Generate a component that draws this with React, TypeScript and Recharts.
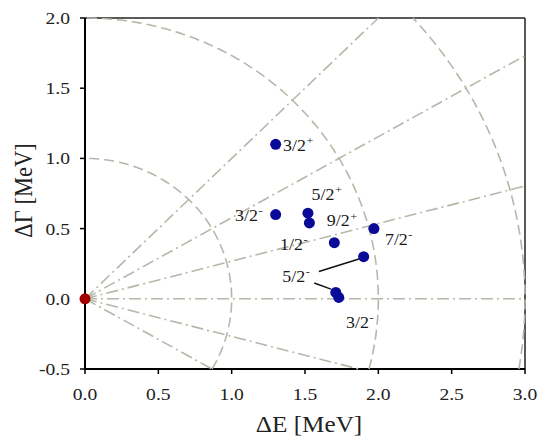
import React from 'react';
import { ScatterChart, Scatter, XAxis, YAxis, ReferenceLine } from 'recharts';

// ---- data ----
const xTicks = [0, 0.5, 1, 1.5, 2, 2.5, 3];
const yTicks = [-0.5, 0, 0.5, 1, 1.5, 2];
const xDomain = [0, 3];
const yDomain = [-0.5, 2];

// resonance states: ΔE and ΔΓ (MeV)
const stateE = [1.30, 1.30, 1.52, 1.53, 1.70, 1.97, 1.90, 1.71, 1.73];
const stateG = [1.10, 0.60, 0.61, 0.54, 0.40, 0.50, 0.30, 0.045, 0.01];

// reference (origin) point
const originE = [0];
const originG = [0];

// state labels (spin, parity) with anchor in data units
const labelSpin = ['3/2', '3/2', '5/2', '9/2', '1/2', '7/2', '5/2', '3/2'];
const labelParity = ['+', '-', '+', '+', '-', '-', '-', '-'];
const labelE = [1.35, 1.023, 1.545, 1.648, 1.33, 2.045, 1.345, 1.78];
const labelG = [1.05, 0.551, 0.705, 0.515, 0.349, 0.385, 0.123, -0.209];

// leader lines from the 5/2- label
const leaderE1 = [1.595, 1.563];
const leaderG1 = [0.194, 0.112];
const leaderE2 = [1.873, 1.677];
const leaderG2 = [0.285, 0.069];

// guide geometry: circles of constant |Δ| and rays of constant phase
const arcRadii = [1, 2, 3];
const rayAngles = [-30, -15, 0, 15, 30, 45];

// ---- helpers ----
const toPoints = (xs: number[], ys: number[]) => xs.map((x, i) => ({ x, y: ys[i] }));

function arcPoints(r: number) {
  const a0 = Math.asin(Math.max(yDomain[0] / r, -1));
  const a1 = Math.asin(Math.min(yDomain[1] / r, 1));
  const n = 90;
  const pts: { x: number; y: number }[] = [];
  for (let i = 0; i <= n; i++) {
    const a = a0 + ((a1 - a0) * i) / n;
    pts.push({ x: r * Math.cos(a), y: r * Math.sin(a) });
  }
  return pts;
}

function rayPoints(deg: number) {
  const a = (deg * Math.PI) / 180;
  const c = Math.cos(a);
  const s = Math.sin(a);
  let t = xDomain[1] / c;
  if (s > 1e-9) t = Math.min(t, yDomain[1] / s);
  if (s < -1e-9) t = Math.min(t, yDomain[0] / s);
  return [
    { x: 0, y: 0 },
    { x: t * c, y: t * s },
  ];
}

const SX = 1.12;
const FONT = '"Liberation Serif", "Times New Roman", serif';
const GUIDE = '#b7b7a9';

const XTick = (props: any) => {
  const { x, y, payload } = props;
  return (
    <text
      transform={`translate(${x},${y + 26}) scale(${SX},1)`}
      textAnchor="middle"
      fontSize={17.5}
      fontFamily={FONT}
      fill="#222"
    >
      {Number(payload.value).toFixed(1)}
    </text>
  );
};

const YTick = (props: any) => {
  const { x, y, payload } = props;
  return (
    <text
      transform={`translate(${x - 10},${y + 6}) scale(${SX},1)`}
      textAnchor="end"
      fontSize={17.5}
      fontFamily={FONT}
      fill="#222"
    >
      {Number(payload.value).toFixed(1)}
    </text>
  );
};

const XTitle = (props: any) => {
  const vb = props.viewBox || { x: 85, y: 369, width: 440, height: 72 };
  const cx = vb.x + vb.width / 2 + 4;
  const by = vb.y + vb.height - 9;
  return (
    <text
      transform={`translate(${cx},${by}) scale(${SX},1)`}
      textAnchor="middle"
      fontSize={22.5}
      fontFamily={FONT}
      fill="#222"
    >
      ΔE [MeV]
    </text>
  );
};

const YTitle = (props: any) => {
  const vb = props.viewBox || { x: 0, y: 18, width: 85, height: 351 };
  const bx = vb.x + 32;
  const cy = vb.y + vb.height / 2 - 3;
  return (
    <text
      transform={`translate(${bx},${cy}) scale(${SX},1) rotate(-90)`}
      textAnchor="middle"
      fontSize={22.5}
      fontFamily={FONT}
      fill="#222"
    >
      ΔΓ [MeV]
    </text>
  );
};

const Dot = (color: string) => (props: any) => {
  const { cx, cy } = props;
  if (cx == null || cy == null) return <g />;
  return <circle cx={cx} cy={cy} r={5.5} fill={color} />;
};

const NoShape = () => <g />;

const StateLabel = (props: any) => {
  const { cx, cy, payload } = props;
  if (cx == null || cy == null) return <g />;
  return (
    <text
      transform={`translate(${cx},${cy}) scale(${SX},1)`}
      fontSize={16}
      fontFamily={FONT}
      fill="#1a1a1a"
    >
      <tspan>{payload.spin}</tspan>
      <tspan dy={-7} dx={0.5} fontSize={11}>
        {payload.parity}
      </tspan>
    </text>
  );
};

export default function App() {
  const states = toPoints(stateE, stateG);
  const origin = toPoints(originE, originG);
  const labels = labelSpin.map((spin, i) => ({
    x: labelE[i],
    y: labelG[i],
    spin,
    parity: labelParity[i],
  }));

  return (
    <div style={{ position: 'absolute', left: 0, top: 0 }}>
      <ScatterChart
        width={538}
        height={441}
        margin={{ top: 18, right: 13, bottom: 0, left: 0 }}
      >
        <XAxis
          type="number"
          dataKey="x"
          domain={xDomain}
          ticks={xTicks}
          height={72}
          tickSize={5}
          tickMargin={0}
          tick={XTick}
          axisLine={{ stroke: '#000', strokeWidth: 2 }}
          tickLine={{ stroke: '#000', strokeWidth: 1.5 }}
          interval={0}
          label={{ content: XTitle }}
        />
        <YAxis
          type="number"
          dataKey="y"
          domain={yDomain}
          ticks={yTicks}
          width={85}
          tickSize={5}
          tickMargin={0}
          tick={YTick}
          axisLine={{ stroke: '#000', strokeWidth: 2 }}
          tickLine={{ stroke: '#000', strokeWidth: 1.5 }}
          interval={0}
          label={{ content: YTitle }}
        />

        <ReferenceLine y={yDomain[1]} stroke="#222" strokeWidth={1.5} />
        <ReferenceLine x={xDomain[1]} stroke="#222" strokeWidth={1.5} />

        {arcRadii.map((r) => (
          <Scatter
            key={`arc-${r}`}
            data={arcPoints(r)}
            line={{ stroke: GUIDE, strokeWidth: 1.6, strokeDasharray: '10 5' }}
            lineType="joint"
            shape={NoShape}
            isAnimationActive={false}
          />
        ))}
        {rayAngles.map((a) => (
          <Scatter
            key={`ray-${a}`}
            data={rayPoints(a)}
            line={{ stroke: GUIDE, strokeWidth: 1.6, strokeDasharray: '12 4 2 4' }}
            lineType="joint"
            shape={NoShape}
            isAnimationActive={false}
          />
        ))}

        {leaderE1.map((e, i) => (
          <Scatter
            key={`leader-${i}`}
            data={[
              { x: e, y: leaderG1[i] },
              { x: leaderE2[i], y: leaderG2[i] },
            ]}
            line={{ stroke: '#111', strokeWidth: 1.5 }}
            lineType="joint"
            shape={NoShape}
            isAnimationActive={false}
          />
        ))}

        <Scatter data={states} shape={Dot('#0a0a98')} isAnimationActive={false} />
        <Scatter data={origin} shape={Dot('#a00000')} isAnimationActive={false} />
        <Scatter data={labels} shape={StateLabel} isAnimationActive={false} />
      </ScatterChart>
    </div>
  );
}
